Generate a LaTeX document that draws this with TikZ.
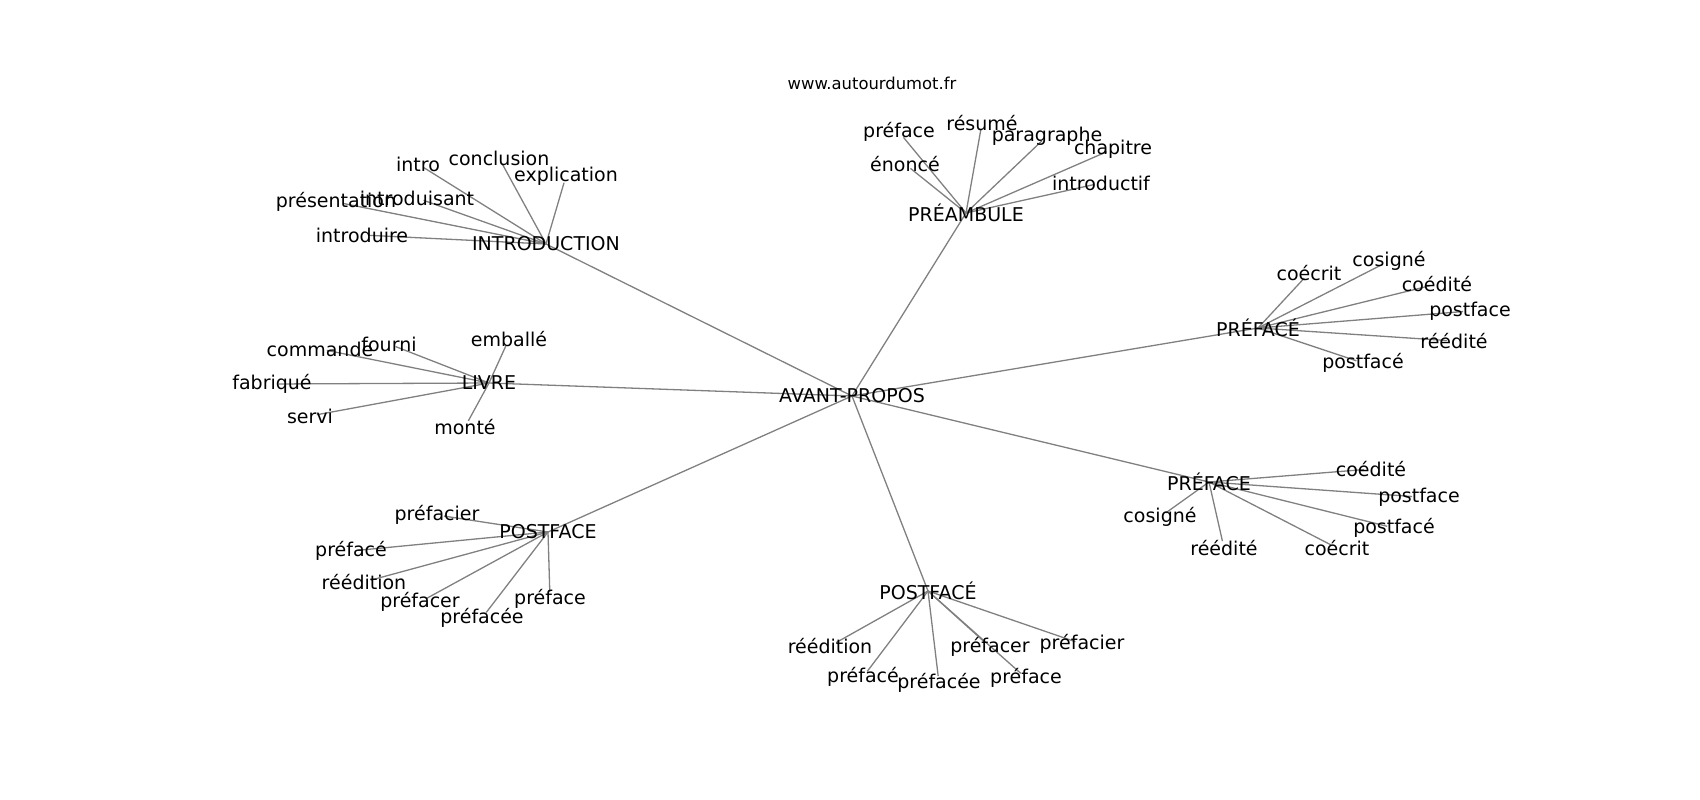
\documentclass[tikz,border=0pt]{standalone}
\usepackage{fontspec}
\setmainfont{DejaVu Sans}
\usetikzlibrary{backgrounds}
\tikzset{
  lbl/.style={inner sep=0pt, text=black, font=\fontsize{19pt}{22pt}\selectfont},
  url/.style={inner sep=0pt, text=black, font=\fontsize{16.4pt}{19pt}\selectfont},
  edge/.style={draw=black!50, line width=1.3pt},
  leafedge/.style={edge, shorten >=7pt}
}
\begin{document}
\begin{tikzpicture}[x=1pt,y=-1pt]
\useasboundingbox (0,0) rectangle (1700,800);
\node[url] (web) at (872,83) {www.autourdumot.fr};
% centre and hubs
\node[lbl] (c) at (852,396) {AVANT-PROPOS};
\node[lbl] (hi) at (546,244) {INTRODUCTION};
\node[lbl] (hp) at (966,213) {PRÉAMBULE};
\node[lbl] (hfe) at (1258,328) {PRÉFACÉ};
\node[lbl] (hfa) at (1209,482) {PRÉFACE};
\node[lbl] (hse) at (928,591) {POSTFACÉ};
\node[lbl] (hsa) at (548,532) {POSTFACE};
\node[lbl] (hl) at (489,383) {LIVRE};
% INTRODUCTION leaves
\node[lbl] (i1) at (418,164) {intro};
\node[lbl] (i2) at (499,158) {conclusion};
\node[lbl] (i3) at (566,176) {explication};
\node[lbl] (i4) at (417,198) {introduisant};
\node[lbl] (i5) at (336,202) {présentation};
\node[lbl] (i6) at (362,235) {introduire};
% PRÉAMBULE leaves
\node[lbl] (p1) at (899,132) {préface};
\node[lbl] (p2) at (982,123) {résumé};
\node[lbl] (p3) at (1047,136) {paragraphe};
\node[lbl] (p4) at (1113,149) {chapitre};
\node[lbl] (p5) at (905,164) {énoncé};
\node[lbl] (p6) at (1101,183) {introductif};
% PRÉFACÉ leaves
\node[lbl] (e1) at (1309,273) {coécrit};
\node[lbl] (e2) at (1389,261) {cosigné};
\node[lbl] (e3) at (1437,284) {coédité};
\node[lbl] (e4) at (1470,311) {postface};
\node[lbl] (e5) at (1454,341) {réédité};
\node[lbl] (e6) at (1363,363) {postfacé};
% PRÉFACE leaves
\node[lbl] (a1) at (1371,469) {coédité};
\node[lbl] (a2) at (1419,497) {postface};
\node[lbl] (a3) at (1394,528) {postfacé};
\node[lbl] (a4) at (1337,548) {coécrit};
\node[lbl] (a5) at (1224,548) {réédité};
\node[lbl] (a6) at (1160,517) {cosigné};
% POSTFACÉ leaves
\node[lbl] (s1) at (830,646) {réédition};
\node[lbl] (s2) at (863,677) {préfacé};
\node[lbl] (s3) at (939,683) {préfacée};
\node[lbl] (s4) at (990,647) {préfacer};
\node[lbl] (s5) at (1026,678) {préface};
\node[lbl] (s6) at (1082,644) {préfacier};
% POSTFACE leaves
\node[lbl] (t1) at (437,515) {préfacier};
\node[lbl] (t2) at (351,551) {préfacé};
\node[lbl] (t3) at (364,582) {réédition};
\node[lbl] (t4) at (420,602) {préfacer};
\node[lbl] (t5) at (482,618) {préfacée};
\node[lbl] (t6) at (550,599) {préface};
% LIVRE leaves
\node[lbl] (l1) at (509,339) {emballé};
\node[lbl] (l2) at (389,344) {fourni};
\node[lbl] (l3) at (320,349) {commande};
\node[lbl] (l4) at (272,384) {fabriqué};
\node[lbl] (l5) at (310,416) {servi};
\node[lbl] (l6) at (465,427) {monté};
\begin{scope}[on background layer]
\foreach \h in {hi,hp,hfe,hfa,hse,hsa,hl}
  \draw[edge] (c.center) -- (\h.center);
\foreach \l in {i1,i2,i3,i4,i5,i6}
  \draw[leafedge] (hi.center) -- (\l.center);
\foreach \l in {p1,p2,p3,p4,p5,p6}
  \draw[leafedge] (hp.center) -- (\l.center);
\foreach \l in {e1,e2,e3,e4,e5,e6}
  \draw[leafedge] (hfe.center) -- (\l.center);
\foreach \l in {a1,a2,a3,a4,a5,a6}
  \draw[leafedge] (hfa.center) -- (\l.center);
\foreach \l in {s1,s2,s3,s4,s5,s6}
  \draw[leafedge] (hse.center) -- (\l.center);
\foreach \l in {t1,t2,t3,t4,t5,t6}
  \draw[leafedge] (hsa.center) -- (\l.center);
\foreach \l in {l1,l2,l3,l4,l5,l6}
  \draw[leafedge] (hl.center) -- (\l.center);
\end{scope}
\end{tikzpicture}
\end{document}
